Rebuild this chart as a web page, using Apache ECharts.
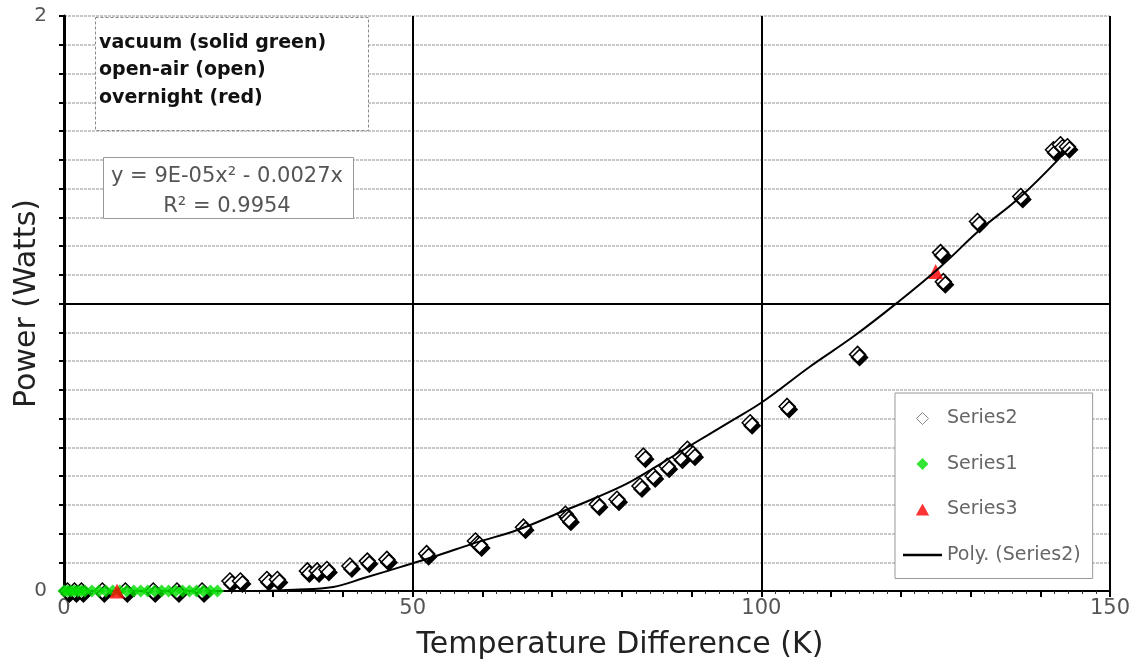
<!DOCTYPE html>
<html>
<head>
<meta charset="utf-8">
<script src="https://cdn.jsdelivr.net/npm/echarts@6/dist/echarts.min.js"></script>
<style>html,body{margin:0;padding:0;background:#fff}#c{width:1137px;height:666px}</style>
</head>
<body>
<div id="c"></div>
<script>
// Series2: open-air (open diamonds)
const series2X = [0.5, 1.5, 2.5, 5.5, 8.8, 12.8, 16.2, 19.8, 23.8, 25.3, 29.1, 30.6, 34.9, 36.3, 37.7, 41.0, 43.5, 46.3, 52.0,
  59.0, 59.6, 65.9, 71.9, 72.4, 76.5, 79.3, 82.6, 83.1, 84.5, 86.5, 88.4, 89.4, 90.2,
  98.4, 103.7, 113.8, 125.7, 126.1, 131.0, 137.2, 141.9, 142.9, 143.9];
const series2Y = [0, 0, 0, 0, 0, 0, 0, 0, 0.035, 0.035, 0.04, 0.04, 0.07, 0.07, 0.075, 0.087, 0.104, 0.11, 0.13,
  0.174, 0.16, 0.222, 0.267, 0.25, 0.302, 0.319, 0.365, 0.469, 0.40, 0.434, 0.465, 0.493, 0.476,
  0.585, 0.642, 0.823, 1.177, 1.076, 1.285, 1.372, 1.535, 1.552, 1.545];
// Series1: vacuum (solid green)
const series1X = [0, 0.5, 1, 1.5, 2, 2.5, 3, 4, 5, 6, 7, 8, 9, 10, 11, 12, 13, 14, 15, 16, 17, 18, 19, 20, 21, 22];
const series1Y = [0, 0, 0, 0, 0, 0, 0, 0, 0, 0, 0, 0, 0, 0, 0, 0, 0, 0, 0, 0, 0, 0, 0, 0, 0, 0];
// Series3: overnight (red)
const series3X = [7.6, 125.0];
const series3Y = [0, 1.111];
// Poly. (Series2) trendline
const trendX = [28, 33, 38.6, 43, 48.2, 52.9, 59.3, 65, 71.2, 76.5, 81.6, 89.4, 95.6, 100.3, 107, 113.2, 119.5, 125.7, 131.4, 137.2, 144.3];
const trendY = [0, 0.004, 0.014, 0.045, 0.083, 0.118, 0.17, 0.212, 0.274, 0.327, 0.385, 0.5, 0.59, 0.66, 0.781, 0.885, 1.003, 1.128, 1.257, 1.372, 1.545];
const xTickLabels = ['0', '50', '100', '150'];
const yTickLabels = ['0', '2'];
const noteLines = ['vacuum (solid green)', 'open-air (open)', 'overnight (red)'];
const eqLines = ['y = 9E-05x\u00b2 - 0.0027x', 'R\u00b2 = 0.9954'];

const zip = (a, b) => a.map((v, i) => [v, b[i]]);
const FONT = '"DejaVu Sans", Verdana, sans-serif';
const DIAMOND = 'path://M0,-1L1,0L0,1L-1,0Z';
const TRIANGLE = 'path://M0,-1L1,0.8L-1,0.8Z';
const LINEICON = 'path://M0,0h40v2.6h-40z';

const chart = echarts.init(document.getElementById('c'));
const yGridColors = [];
for (let i = 0; i <= 20; i++) yGridColors.push(i === 10 ? 'rgba(0,0,0,0)' : '#c8c8c8');

chart.setOption({
  animation: false,
  backgroundColor: '#fff',
  grid: { left: 64, right: 27, top: 16, bottom: 75, containLabel: false, outerBoundsMode: 'none' },
  xAxis: {
    type: 'value', min: 0, max: 150, interval: 10,
    axisLine: { show: true, lineStyle: { color: '#000', width: 2 } },
    axisTick: { show: true, inside: false, length: 6, lineStyle: { color: '#000', width: 2 } },
    minorTick: { show: true, splitNumber: 5, length: 3, lineStyle: { color: '#333' } },
    axisLabel: {
      color: '#555', fontSize: 21, fontFamily: FONT, margin: 7,
      formatter: v => { const s = String(Math.round(v)); return xTickLabels.includes(s) && Math.round(v) % 50 === 0 ? s : ''; }
    },
    splitLine: { show: false },
    name: 'Temperature Difference (K)', nameLocation: 'middle', nameGap: 39, nameMoveOverlap: false,
    nameTextStyle: { color: '#222', fontSize: 30, fontFamily: FONT, padding: [0, 0, 0, 66] }
  },
  yAxis: {
    type: 'value', min: 0, max: 2, interval: 0.1,
    axisLine: { show: true, lineStyle: { color: '#000', width: 3 } },
    axisTick: { show: true, length: 5, lineStyle: { color: '#000', width: 2 } },
    axisLabel: {
      color: '#555', fontSize: 20, fontFamily: FONT, margin: 17,
      formatter: v => {
        if (Math.abs(v) < 1e-6) return yTickLabels[0];
        if (Math.abs(v - 2) < 1e-6) return yTickLabels[1];
        return '';
      }
    },
    splitLine: { show: true, lineStyle: { color: yGridColors, width: 2, type: [3, 1] } },
    name: 'Power (Watts)', nameLocation: 'middle', nameGap: 22, nameMoveOverlap: false,
    nameTextStyle: { color: '#222', fontSize: 30, fontFamily: FONT }
  },
  legend: {
    orient: 'vertical', left: 895, top: 393,
    padding: [16, 12, 14, 8],
    itemWidth: 39, itemHeight: 12, itemGap: 26.5,
    backgroundColor: '#fff', borderColor: '#999', borderWidth: 1,
    textStyle: { color: '#666', fontSize: 19, fontFamily: FONT },
    data: [
      { name: 'Series2', icon: DIAMOND, itemStyle: { color: '#fff', borderColor: '#888', borderWidth: 1, shadowBlur: 0, shadowOffsetX: 0, shadowOffsetY: 0 } },
      { name: 'Series1', icon: DIAMOND },
      { name: 'Series3', icon: TRIANGLE },
      { name: 'Poly. (Series2)', icon: LINEICON, itemStyle: { color: '#000' } }
    ]
  },
  series: [
    {
      name: 'Series2', type: 'scatter', data: zip(series2X, series2Y),
      symbol: 'diamond', symbolSize: 16, symbolKeepAspect: true,
      itemStyle: { color: '#fff', borderColor: '#000', borderWidth: 1.5, shadowColor: '#000', shadowBlur: 0, shadowOffsetX: 2, shadowOffsetY: 3, opacity: 1 },
      z: 2
    },
    {
      name: 'Series1', type: 'scatter', data: zip(series1X, series1Y),
      symbol: 'diamond', symbolSize: 13, symbolKeepAspect: true,
      itemStyle: { color: '#00dd00' },
      z: 3
    },
    {
      name: 'Series3', type: 'scatter', data: zip(series3X, series3Y),
      symbol: 'triangle', symbolSize: 15, symbolKeepAspect: true,
      itemStyle: { color: '#ff0000' },
      z: 4
    },
    {
      name: 'Poly. (Series2)', type: 'line', data: zip(trendX, trendY),
      smooth: 0.4, symbol: 'none', showSymbol: false, symbolKeepAspect: true,
      lineStyle: { color: '#000', width: 2 },
      itemStyle: { color: '#000' },
      z: 5,
      markLine: {
        silent: true, symbol: 'none', label: { show: false },
        lineStyle: { color: '#000', width: 2, type: 'solid' },
        data: [{ xAxis: 50 }, { xAxis: 100 }, { xAxis: 150 }, { yAxis: 1 }]
      }
    }
  ],
  graphic: [
    { type: 'rect', left: 95, top: 17, shape: { width: 273, height: 113 },
      style: { fill: '#fff', stroke: '#888', lineWidth: 1, lineDash: [3, 2] }, z: 10 },
    { type: 'text', x: 99, y: 29, z: 11,
      style: { text: noteLines.join('\n'), fill: '#111', font: 'bold 19px "DejaVu Sans", Verdana, sans-serif', lineHeight: 27.5 } },
    { type: 'rect', left: 103, top: 157, shape: { width: 250, height: 61 },
      style: { fill: '#fff', stroke: '#999', lineWidth: 1 }, z: 10 },
    { type: 'text', x: 227, y: 162, z: 11,
      style: { text: eqLines.join('\n'), fill: '#555', font: '21px "DejaVu Sans", Verdana, sans-serif', lineHeight: 30, align: 'center' } }
  ]
});
</script>
</body>
</html>
